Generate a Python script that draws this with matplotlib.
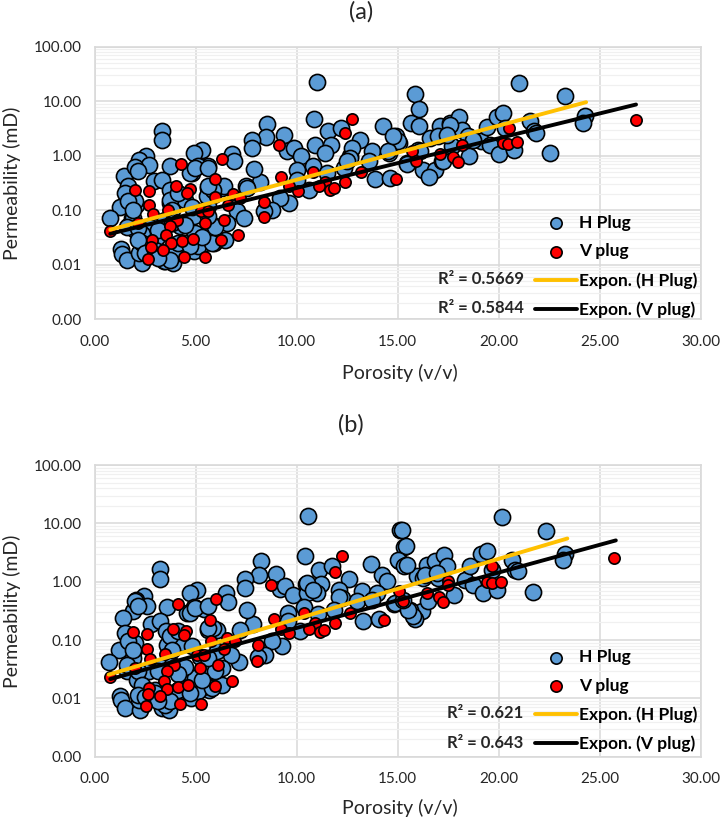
import matplotlib
matplotlib.use("Agg")
import matplotlib.pyplot as plt
from matplotlib.ticker import FuncFormatter, LogLocator, NullFormatter

plt.rcParams["font.family"] = ["Lato", "DejaVu Sans"]

# Panel (a) values
a_h_por = [11.0, 10.86, 3.35, 3.35, 8.56, 8.47, 7.8, 7.77, 9.36, 9.55, 9.85, 11.58, 12.2, 13.12, 14.27, 14.9, 15.05,
           10.92, 11.7, 11.42, 10.2, 12.62, 12.74, 13.73, 13.56, 14.55, 10.8, 10.02, 10.02, 11.53, 12.33, 13.86, 14.64,
           10.6, 9.65, 9.19, 8.78, 8.4, 8.2, 7.87, 7.49, 7.05, 7.41, 6.8, 6.88, 6.3, 5.89, 5.64, 5.64, 5.31, 4.93, 5.1,
           4.82, 3.75, 2.54, 2.18, 2.71, 2.01, 1.44, 2.92, 3.33, 1.77, 3.75, 3.75, 4.49, 2.06, 1.27, 0.78, 1.88, 1.68,
           1.3, 1.35, 1.6, 2.34, 3.42, 3.88, 4.93, 5.89, 6.47, 5.48, 2.43, 2.18, 3.0, 3.58, 4.08, 3.09, 4.4, 4.9, 5.97,
           6.55, 2.84, 3.5, 4.9, 5.64, 6.39, 5.56, 7.54, 4.24, 2.34, 2.0,
           21.0, 23.26, 15.88, 16.07, 15.65, 16.08, 17.1, 17.6, 18.04, 18.18, 16.6, 17.02, 15.04, 16.03, 15.45, 16.28,
           16.86, 16.53, 17.19, 18.54, 17.68, 19.12, 19.4, 19.91, 20.2, 20.32, 19.58, 20.04, 20.74, 21.53, 21.73, 21.86,
           22.55, 24.26, 24.17, 18.5,
           2.0, 2.17, 1.67, 1.51, 2.0, 1.67, 3.74, 1.92, 1.59, 2.17, 2.33, 2.17, 2.5, 3.0, 3.49, 3.99, 4.48, 5.12, 4.98,
           5.8, 5.97, 5.62, 5.88, 5.62, 4.81, 3.82, 3.16, 4.48, 1.92, 4.14, 3.82, 4.73, 4.98, 5.62, 5.3, 4.14, 4.73,
           3.74, 3.16,
           12.65, 12.48, 14.53, 14.78, 15.45, 16.11, 17.6, 17.25, 17.43, 18.74]
a_h_perm = [22.9, 4.75, 2.9, 1.96, 3.9, 2.2, 1.96, 1.36, 2.42, 1.22, 1.38, 2.79, 3.2, 1.96, 3.54, 2.26, 1.7,
            1.55, 1.59, 1.12, 1.0, 0.97, 1.38, 1.2, 0.79, 1.12, 0.64, 0.55, 0.36, 0.48, 0.59, 0.38, 0.39,
            0.24, 0.136, 0.17, 0.1, 0.096, 0.325, 0.58, 0.275, 0.096, 0.072, 1.09, 0.79, 0.256, 0.24, 0.256, 0.64, 1.29,
            1.12, 0.64, 0.48, 0.64, 1.0, 0.85, 0.68, 0.55, 0.42, 0.34, 0.36, 0.21, 0.24, 0.136, 0.157, 0.127, 0.115,
            0.072, 0.072, 0.051, 0.0196, 0.016, 0.0122, 0.011, 0.0117, 0.011, 0.0178, 0.025, 0.029, 0.025, 0.027, 0.0166,
            0.025, 0.0145, 0.0166, 0.033, 0.055, 0.033, 0.051, 0.059, 0.051, 0.067, 0.078, 0.118, 0.275, 0.18, 0.256,
            0.051, 0.036, 0.044,
            21.9, 12.7, 13.6, 7.1, 4.07, 3.44, 3.44, 3.97, 5.1, 3.0, 2.16, 2.26, 1.83, 1.29, 0.73, 0.55,
            0.55, 0.4, 0.79, 1.0, 1.48, 1.88, 3.34, 5.1, 6.0, 3.2, 1.59, 1.09, 1.29, 4.25, 2.79, 2.6,
            1.12, 5.25, 4.07, 2.26,
            0.63, 0.515, 0.274, 0.207, 0.145, 0.145, 0.156, 0.072, 0.05, 0.047, 0.025, 0.029, 0.0164, 0.019, 0.0115,
            0.0166, 0.025, 0.022, 0.039, 0.025, 0.05, 0.077, 0.24, 0.274, 0.117, 0.059, 0.044, 0.054, 0.102, 0.21, 0.102,
            0.48, 0.6, 0.6, 0.032, 0.025, 0.022, 0.0123, 0.0135,
            0.91, 0.79, 1.2, 2.26, 0.71, 1.2, 3.7, 0.79, 2.43, 1.95]
a_v_por = [0.78, 12.74, 12.41, 9.11, 6.29, 4.27, 5.94, 4.04, 4.74, 4.6, 2.01, 2.69, 2.72, 2.89, 3.66, 5.97, 6.85, 7.21,
           6.63, 5.26, 5.64, 8.4, 8.37, 9.22, 9.65, 10.06, 10.79, 11.39, 11.09, 11.63, 11.83, 12.38, 13.2, 14.93, 2.13,
           4.08, 3.75, 5.46, 6.39, 3.55, 2.84, 2.79, 3.78, 3.37, 4.31, 4.85, 6.24, 7.1, 2.66, 4.41, 5.46,
           26.8, 20.49, 20.2, 20.45, 20.9, 18.2, 17.1, 17.76, 17.99, 15.7, 15.92]
a_v_perm = [0.041, 4.68, 2.56, 1.55, 0.87, 0.71, 0.38, 0.275, 0.25, 0.207, 0.24, 0.223, 0.127, 0.086, 0.103, 0.173, 0.2,
            0.168, 0.127, 0.096, 0.096, 0.142, 0.0745, 0.407, 0.275, 0.229, 0.5, 0.33, 0.275, 0.24, 0.256, 0.33, 0.5,
            0.38, 0.059, 0.066, 0.051, 0.059, 0.067, 0.035, 0.028, 0.021, 0.025, 0.019, 0.027, 0.03, 0.029, 0.035,
            0.0129, 0.014, 0.014,
            4.43, 3.16, 1.7, 1.66, 1.75, 1.59, 1.09, 0.95, 0.77, 1.2, 0.81]
a_h_trend_por = [0.78, 24.33]
a_h_trend_perm = [0.044, 9.6]
a_v_trend_por = [0.78, 26.8]
a_v_trend_perm = [0.037, 8.7]

# Panel (b) values
b_h_por = [10.56, 10.43, 3.22, 3.22, 8.23, 8.14, 7.46, 7.46, 8.98, 9.19, 9.44, 9.82, 11.12, 11.75, 12.61, 13.7, 14.22,
           14.47, 15.05, 15.13, 15.3, 10.48, 11.22, 11.0, 10.54, 12.11, 12.24, 13.23, 12.99, 13.98, 14.84, 13.28, 14.06,
           12.11, 11.83, 10.38, 11.06, 10.18, 9.6, 9.6, 9.27, 8.78, 8.45, 8.07, 7.84, 7.54, 7.21, 7.13, 6.75, 6.5, 6.63,
           6.06, 5.64, 5.43, 5.07, 4.74, 4.9, 4.6, 3.61, 2.43, 2.06, 2.59, 1.9, 1.39, 2.79, 3.22, 1.68, 3.55, 3.61, 4.32,
           1.96, 1.22, 0.74, 1.85, 1.6, 1.27, 1.3, 1.52, 2.26, 3.33, 3.7, 4.77, 5.69, 6.3, 5.26, 2.43, 2.18, 3.0, 3.83,
           4.24, 4.82, 5.76, 6.3, 2.72, 3.33, 2.1, 5.23, 6.06,
           20.16, 22.34, 15.24, 15.42, 15.04, 15.4, 16.44, 16.86, 17.32, 17.43, 15.95, 16.28, 17.02, 16.2, 15.87, 15.62,
           16.48, 14.88, 17.77, 18.34, 18.59, 19.12, 19.42, 19.66, 18.75, 19.25, 19.94, 20.65, 20.82, 20.98, 21.68, 23.3,
           23.2,
           2.0, 2.17, 1.51, 2.0, 1.67, 3.74, 1.92, 1.59, 2.17, 2.33, 2.17, 2.5, 3.0, 3.49, 3.99, 4.48, 5.12, 4.98, 5.8,
           5.97, 5.62, 5.88, 5.62, 4.81, 3.82, 3.16, 4.48, 1.92, 4.14, 3.82, 4.73, 4.98, 5.62, 5.3, 4.14, 4.73, 3.74,
           3.16, 4.14,
           10.5, 10.83, 13.72, 15.3, 15.46, 16.36, 16.93, 15.77, 15.52, 15.27]
b_h_perm = [13.2, 2.79, 1.65, 1.13, 2.23, 1.28, 1.13, 0.78, 1.37, 0.75, 0.83, 0.58, 1.61, 1.83, 1.13, 2.04, 1.32,
            1.01, 2.23, 7.8, 4.0, 0.91, 0.91, 0.64, 0.64, 0.73, 0.525, 0.68, 0.46, 0.64, 0.42, 0.214, 0.23,
            0.54, 0.33, 0.37, 0.28, 0.14, 0.29, 0.21, 0.078, 0.098, 0.056, 0.052, 0.19, 0.33, 0.15, 0.042, 0.056, 0.64,
            0.44, 0.15, 0.15, 0.34, 0.71, 0.64, 0.37, 0.29, 0.37, 0.56, 0.48, 0.39, 0.31, 0.24, 0.19, 0.21, 0.116, 0.14,
            0.083, 0.089, 0.068, 0.067, 0.042, 0.042, 0.03, 0.011, 0.0092, 0.0068, 0.0062, 0.0068, 0.0064, 0.0101, 0.0141,
            0.0167, 0.015, 0.015, 0.0095, 0.0141, 0.0095, 0.033, 0.022, 0.029, 0.033, 0.029, 0.035, 0.021, 0.052, 0.064,
            12.7, 7.3, 7.8, 4.04, 2.32, 1.9, 1.96, 2.23, 2.9, 1.83, 1.27, 1.16, 1.16, 0.31, 0.23, 0.33,
            0.46, 0.43, 0.58, 1.05, 1.83, 2.98, 3.4, 1.61, 0.89, 0.64, 0.73, 2.38, 1.61, 1.5, 0.66, 3.02,
            2.32,
            0.46, 0.38, 0.13, 0.089, 0.095, 0.115, 0.049, 0.038, 0.029, 0.017, 0.0115, 0.0107, 0.0123, 0.0078, 0.01,
            0.015, 0.0132, 0.0224, 0.015, 0.029, 0.049, 0.162, 0.162, 0.078, 0.038, 0.029, 0.035, 0.068, 0.141, 0.068,
            0.29, 0.35, 0.38, 0.021, 0.014, 0.0123, 0.0089, 0.0089, 0.0257,
            0.95, 0.73, 0.49, 1.83, 1.95, 1.32, 1.41, 0.254, 0.33, 0.49]
b_v_por = [0.78, 12.24, 11.91, 8.73, 6.02, 4.11, 5.73, 3.88, 4.54, 4.41, 1.93, 2.59, 2.62, 2.76, 3.5, 5.76, 6.55, 6.93,
           6.39, 5.07, 5.43, 8.07, 8.04, 8.86, 9.24, 9.65, 10.35, 10.92, 10.64, 11.17, 11.34, 11.88, 12.66, 14.34, 2.01,
           3.94, 3.61, 5.23, 6.12, 3.42, 2.71, 2.67, 3.61, 3.22, 4.13, 4.62, 5.97, 6.8, 2.54, 4.21, 5.26,
           25.7, 19.66, 19.42, 19.66, 20.11, 17.48, 17.48, 16.44, 17.07, 17.27, 15.07, 15.25]
b_v_perm = [0.023, 2.72, 1.47, 0.89, 0.5, 0.41, 0.22, 0.156, 0.145, 0.12, 0.137, 0.128, 0.071, 0.047, 0.058, 0.097, 0.108,
            0.097, 0.071, 0.055, 0.055, 0.081, 0.043, 0.232, 0.155, 0.132, 0.29, 0.195, 0.156, 0.137, 0.147, 0.195, 0.29,
            0.217, 0.033, 0.038, 0.029, 0.033, 0.038, 0.02, 0.015, 0.0119, 0.0145, 0.0108, 0.0155, 0.0171, 0.0165, 0.02,
            0.0073, 0.008, 0.008,
            2.55, 1.83, 0.97, 0.95, 1.0, 1.01, 0.89, 0.64, 0.54, 0.45, 0.7, 0.46]
b_h_trend_por = [0.7, 23.4]
b_h_trend_perm = [0.0255, 5.5]
b_v_trend_por = [0.78, 25.8]
b_v_trend_perm = [0.0214, 5.1]

r2_a = ["R² = 0.5669", "R² = 0.5844"]
r2_b = ["R² = 0.621", "R² = 0.643"]

W, H = 721, 821
BLUE = "#5B9BD5"
RED = "#FF0000"
GOLD = "#FFC000"
TEXT = "#262626"


def draw_panel(ax, h_por, h_perm, v_por, v_perm, h_line, v_line, r2, r2_y, legend_y):
    ax.scatter(h_por, h_perm, s=135, c=BLUE, edgecolors="black", linewidths=1.2, zorder=3, label="H Plug")
    ax.scatter(v_por, v_perm, s=66, c=RED, edgecolors="black", linewidths=1.2, zorder=4, label="V plug")
    ax.plot(v_line[0], v_line[1], color="black", lw=2.8, solid_capstyle="round", zorder=5, label="Expon. (V plug)")
    ax.plot(h_line[0], h_line[1], color=GOLD, lw=2.8, solid_capstyle="round", zorder=6, label="Expon. (H Plug)")

    ax.set_xlim(0, 30)
    ax.set_yscale("log")
    ax.set_ylim(0.001, 100)
    ax.set_xticks([0, 5, 10, 15, 20, 25, 30])
    ax.xaxis.set_major_formatter(FuncFormatter(lambda v, _: f"{v:.2f}"))
    ax.yaxis.set_major_locator(LogLocator(base=10, numticks=10))
    ax.yaxis.set_major_formatter(FuncFormatter(lambda v, _: f"{v:.2f}"))
    ax.yaxis.set_minor_locator(LogLocator(base=10, subs=range(2, 10), numticks=10))
    ax.yaxis.set_minor_formatter(NullFormatter())
    ax.tick_params(axis="both", which="both", length=0, labelsize=11, colors=TEXT)
    ax.tick_params(axis="x", pad=11)
    ax.tick_params(axis="y", pad=9)

    ax.grid(True, which="major", color="#D9D9D9", lw=1.1, zorder=0)
    ax.grid(True, which="minor", axis="y", color="#F0F0F0", lw=0.9, zorder=0)
    ax.set_axisbelow(True)
    for spine in ax.spines.values():
        spine.set_color("#D9D9D9")
        spine.set_linewidth(1.2)

    ax.set_xlabel("Porosity (v/v)", fontsize=14, color=TEXT)
    ax.set_ylabel("Permeability (mD)", fontsize=14, color=TEXT)
    ax.xaxis.set_label_coords(0.504, legend_y[0])
    ax.yaxis.set_label_coords(-0.122, 0.5)

    # legend order as in the original: points first, then H and V trend
    handles, labels = ax.get_legend_handles_labels()
    order = [labels.index(n) for n in ["H Plug", "V plug", "Expon. (H Plug)", "Expon. (V plug)"]]
    leg = ax.legend([handles[i] for i in order], [labels[i] for i in order], loc="lower right",
                    bbox_to_anchor=(0.995, legend_y[1]), frameon=False, borderaxespad=0, borderpad=0,
                    handlelength=2.4, handletextpad=0.15, labelspacing=legend_y[2],
                    prop={"size": 12.5, "weight": "bold"})
    leg.legend_handles[0].set_sizes([66])
    leg.legend_handles[1].set_sizes([66])

    for label, y in zip(r2, r2_y):
        ax.text(0.708, y, label, transform=ax.transAxes, ha="right", va="center",
                fontsize=12, fontweight="bold", color=TEXT, zorder=7)


fig = plt.figure(figsize=(W / 100, H / 100), dpi=100)

ax_a = fig.add_axes([94.5 / W, 1 - 319.3 / H, 606.2 / W, 272.6 / H])
ax_b = fig.add_axes([94.5 / W, 1 - 756.7 / H, 606.2 / W, 291.7 / H])

draw_panel(ax_a, a_h_por, a_h_perm, a_v_por, a_v_perm,
           (a_h_trend_por, a_h_trend_perm), (a_v_trend_por, a_v_trend_perm),
           r2_a, [0.148, 0.041], (-0.165, 0.005, 0.73))
draw_panel(ax_b, b_h_por, b_h_perm, b_v_por, b_v_perm,
           (b_h_trend_por, b_h_trend_perm), (b_v_trend_por, b_v_trend_perm),
           r2_b, [0.15, 0.047], (-0.145, 0.015, 0.73))

fig.text(361 / W, 1 - 12 / H, "(a)", ha="center", va="center", fontsize=17, color=TEXT)
fig.text(351 / W, 1 - 425 / H, "(b)", ha="center", va="center", fontsize=17, color=TEXT)

fig.savefig("out.png", dpi=100)
plt.close(fig)
